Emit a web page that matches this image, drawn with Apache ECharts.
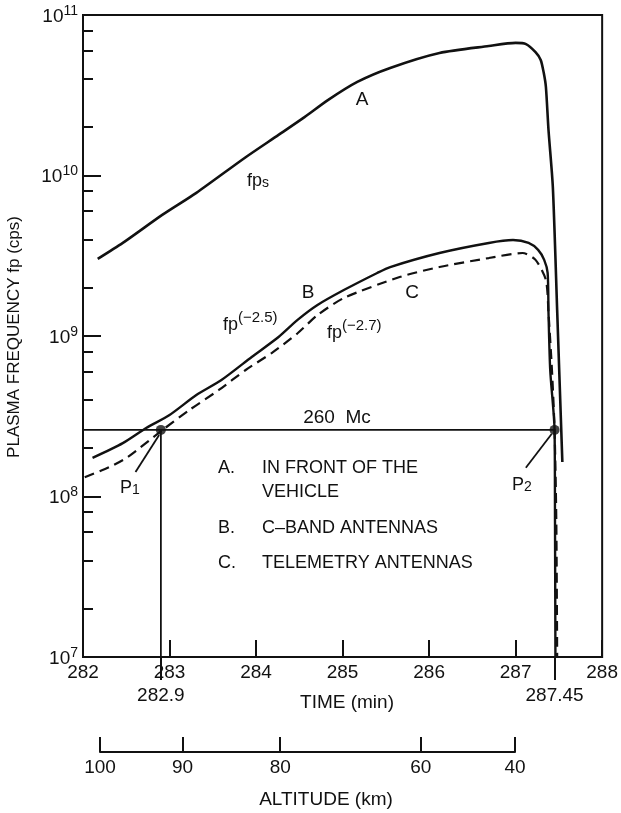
<!DOCTYPE html>
<html>
<head>
<meta charset="utf-8">
<script src="https://cdn.jsdelivr.net/npm/echarts@6/dist/echarts.min.js"></script>
<style>
html,body{margin:0;padding:0;background:#fff;}
#chart{width:621px;height:813px;}
</style>
</head>
<body>
<div id="chart"></div>
<script>
// ---- data ----
const timeA = [282.17, 282.46, 282.92, 283.31, 283.88, 284.26, 284.56, 284.83, 285.17, 285.55, 286.12, 286.69, 287.00, 287.12, 287.23, 287.29, 287.325, 287.35, 287.38, 287.43, 287.48, 287.54];
const fpA   = [3.02e9, 3.8e9, 5.7e9, 7.8e9, 1.30e10, 1.79e10, 2.31e10, 2.95e10, 3.83e10, 4.68e10, 5.80e10, 6.41e10, 6.70e10, 6.59e10, 5.87e10, 5.25e10, 4.36e10, 3.56e10, 1.92e10, 8.5e9, 1.45e9, 1.64e8];

const timeB = [282.11, 282.46, 282.73, 283.00, 283.31, 283.60, 283.95, 284.26, 284.48, 284.71, 285.02, 285.40, 285.55, 286.12, 286.69, 286.97, 287.15, 287.26, 287.33, 287.37, 287.38, 287.40, 287.45, 287.455, 287.46];
const fpB   = [1.74e8, 2.15e8, 2.67e8, 3.22e8, 4.29e8, 5.32e8, 7.40e8, 9.86e8, 1.26e9, 1.56e9, 1.94e9, 2.47e9, 2.69e9, 3.29e9, 3.80e9, 3.96e9, 3.80e9, 3.44e9, 2.98e9, 2.47e9, 1.39e9, 6.1e8, 2.60e8, 7.1e7, 1.0e7];

const timeC = [282.02, 282.31, 282.515, 282.92, 283.23, 283.57, 283.88, 284.18, 284.48, 284.71, 285.02, 285.66, 286.12, 286.69, 287.08, 287.23, 287.35, 287.38, 287.42, 287.45, 287.47, 287.48];
const fpC   = [1.32e8, 1.53e8, 1.76e8, 2.60e8, 3.46e8, 4.61e8, 6.14e8, 7.83e8, 1.04e9, 1.35e9, 1.73e9, 2.33e9, 2.69e9, 3.06e9, 3.29e9, 2.98e9, 2.23e9, 1.39e9, 6.1e8, 2.60e8, 7.1e7, 1.0e7];

const cutoffFreq = 2.6e8;            // 260 Mc
const markTimes = [282.9, 287.45];   // P1, P2 times
const p1Arrow = [[282.607, 1.42e8], [282.88, 2.42e8]];
const p2Arrow = [[287.118, 1.51e8], [287.416, 2.45e8]];

const timeTicks = [282, 283, 284, 285, 286, 287, 288];
const freqMajor = [1e7, 1e8, 1e9, 1e10, 1e11];
const freqMinor = [2e7,4e7,6e7,8e7, 2e8,4e8,6e8,8e8, 2e9,4e9,6e9,8e9, 2e10,4e10,6e10,8e10];

const altitudeLabels = [100, 90, 80, 60, 40];
const altitudeTimes  = [282.195, 283.14, 284.26, 285.87, 286.95];

// ---- chart ----
const FONT = 'Liberation Sans, Arial, sans-serif';
const chart = echarts.init(document.getElementById('chart'));
const zip = (xs, ys) => xs.map((x, i) => [x, ys[i]]);
const black = '#111';

const supRich = {
  n: { fontFamily: FONT, fontSize: 18, lineHeight: 24, fill: black, verticalAlign: 'bottom' },
  sup: { fontFamily: FONT, fontSize: 15, lineHeight: 15, fill: black, verticalAlign: 'top' },
  sub: { fontFamily: FONT, fontSize: 14, lineHeight: 14, fill: black, verticalAlign: 'bottom' }
};
const plain = (x, y, text, size, align) => ({ type: 'text', x: x, y: y,
  style: { text: text, fontFamily: FONT, fontSize: size || 19, fill: black, align: align || 'center', verticalAlign: 'middle' } });

const option = {
  animation: false,
  backgroundColor: '#fff',
  grid: [
    { left: 83, top: 15, width: 524, height: 642, show: true, borderColor: black, borderWidth: 2, backgroundColor: 'transparent' },
    { left: 100, top: 700, width: 415, height: 52 }
  ],
  xAxis: [
    {
      gridIndex: 0, type: 'value', min: 282, max: 288, interval: 1,
      axisLine: { lineStyle: { color: black, width: 2 } },
      axisTick: { inside: true, length: 17, lineStyle: { color: black, width: 2 }, customValues: timeTicks },
      axisLabel: { margin: 6, color: black, fontSize: 19, fontFamily: FONT, customValues: timeTicks },
      splitLine: { show: false }
    },
    {
      gridIndex: 0, type: 'value', min: 282, max: 288, position: 'bottom',
      axisLine: { show: false },
      axisTick: { show: true, inside: false, length: 23, lineStyle: { color: black, width: 2 }, customValues: markTimes },
      axisLabel: { margin: 29, color: black, fontSize: 19, fontFamily: FONT, customValues: markTimes,
        formatter: v => String(v) },
      splitLine: { show: false }
    },
    {
      gridIndex: 1, type: 'value', min: altitudeTimes[0], max: altitudeTimes[altitudeTimes.length - 1], position: 'bottom',
      axisLine: { lineStyle: { color: black, width: 2 } },
      axisTick: { inside: true, length: 15, lineStyle: { color: black, width: 2 }, customValues: altitudeTimes },
      axisLabel: { margin: 6, color: black, fontSize: 19, fontFamily: FONT, customValues: altitudeTimes,
        formatter: v => {
          let best = 0;
          altitudeTimes.forEach((t, i) => { if (Math.abs(t - v) < Math.abs(altitudeTimes[best] - v)) best = i; });
          return String(altitudeLabels[best]);
        } },
      splitLine: { show: false }
    }
  ],
  yAxis: [
    {
      gridIndex: 0, type: 'log', logBase: 10, min: 1e7, max: 1e11,
      axisLine: { lineStyle: { color: black, width: 2 } },
      axisTick: { inside: true, length: 18, lineStyle: { color: black, width: 2 }, customValues: freqMajor },
      axisLabel: {
        margin: 5, customValues: freqMajor,
        formatter: v => '{b|10}{s|' + Math.round(Math.log10(v)) + '}',
        rich: {
          b: { fontFamily: FONT, fontSize: 19, lineHeight: 22, color: black, verticalAlign: 'bottom' },
          s: { fontFamily: FONT, fontSize: 14, lineHeight: 14, color: black, verticalAlign: 'top' }
        }
      },
      splitLine: { show: false }
    },
    {
      gridIndex: 0, type: 'log', logBase: 10, min: 1e7, max: 1e11, position: 'left',
      axisLine: { show: false },
      axisTick: { inside: true, length: 10, lineStyle: { color: black, width: 2 }, customValues: freqMinor },
      axisLabel: { show: false },
      splitLine: { show: false }
    },
    {
      gridIndex: 1, type: 'value', min: 0, max: 1, show: false
    }
  ],
  series: [
    { name: 'A', type: 'line', xAxisIndex: 0, yAxisIndex: 0, data: zip(timeA, fpA), smooth: 0.25,
      showSymbol: false, lineStyle: { color: black, width: 2.6 } },
    { name: 'B', type: 'line', xAxisIndex: 0, yAxisIndex: 0, data: zip(timeB, fpB), smooth: 0.25,
      showSymbol: false, lineStyle: { color: black, width: 2.4 } },
    { name: 'C', type: 'line', xAxisIndex: 0, yAxisIndex: 0, data: zip(timeC, fpC), smooth: 0.25,
      showSymbol: false, lineStyle: { color: black, width: 2.2, type: [10, 6] } },
    { name: '260 Mc', type: 'line', xAxisIndex: 0, yAxisIndex: 0, data: [[282, cutoffFreq], [markTimes[1], cutoffFreq]],
      showSymbol: false, lineStyle: { color: black, width: 1.6 } },
    { name: 'P1 drop', type: 'line', xAxisIndex: 0, yAxisIndex: 0, data: [[markTimes[0], 1e7], [markTimes[0], cutoffFreq]],
      showSymbol: false, lineStyle: { color: black, width: 1.8 } },
    { name: 'P1 arrow', type: 'line', xAxisIndex: 0, yAxisIndex: 0, data: p1Arrow,
      showSymbol: false, lineStyle: { color: black, width: 1.8 } },
    { name: 'P2 arrow', type: 'line', xAxisIndex: 0, yAxisIndex: 0, data: p2Arrow,
      showSymbol: false, lineStyle: { color: black, width: 1.8 } },
    { name: 'points', type: 'scatter', xAxisIndex: 0, yAxisIndex: 0,
      data: markTimes.map(t => [t, cutoffFreq]), symbolSize: 10, itemStyle: { color: black } },
    { name: 'alt', type: 'line', xAxisIndex: 2, yAxisIndex: 2, data: [], showSymbol: false }
  ],
  graphic: [
    { type: 'text', x: 14, y: 337, rotation: Math.PI / 2,
      style: { text: 'PLASMA FREQUENCY fp (cps)', fontFamily: FONT, fontSize: 17, fill: black, align: 'center', verticalAlign: 'middle' } },
    plain(347, 703, 'TIME (min)'),
    plain(326, 800, 'ALTITUDE (km)'),
    plain(362, 100, 'A'),
    plain(308, 293, 'B'),
    plain(412, 293, 'C'),
    { type: 'text', x: 247, y: 178, style: { text: '{n|fp}{sub|s}', rich: supRich, align: 'left', verticalAlign: 'middle' } },
    { type: 'text', x: 223, y: 322, style: { text: '{n|fp}{sup|(\u22122.5)}', rich: supRich, align: 'left', verticalAlign: 'middle' } },
    { type: 'text', x: 327, y: 330, style: { text: '{n|fp}{sup|(\u22122.7)}', rich: supRich, align: 'left', verticalAlign: 'middle' } },
    plain(337, 418, '260  Mc'),
    { type: 'text', x: 120, y: 485, style: { text: '{n|P}{sub|1}', rich: supRich, align: 'left', verticalAlign: 'middle' } },
    { type: 'text', x: 512, y: 482, style: { text: '{n|P}{sub|2}', rich: supRich, align: 'left', verticalAlign: 'middle' } },
    plain(218, 468, 'A.', 18, 'left'),
    plain(262, 468, 'IN FRONT OF THE', 18, 'left'),
    plain(262, 492, 'VEHICLE', 18, 'left'),
    plain(218, 528, 'B.', 18, 'left'),
    plain(262, 528, 'C\u2013BAND ANTENNAS', 18, 'left'),
    plain(218, 563, 'C.', 18, 'left'),
    plain(262, 563, 'TELEMETRY ANTENNAS', 18, 'left')
  ]
};
chart.setOption(option);
</script>
</body>
</html>
